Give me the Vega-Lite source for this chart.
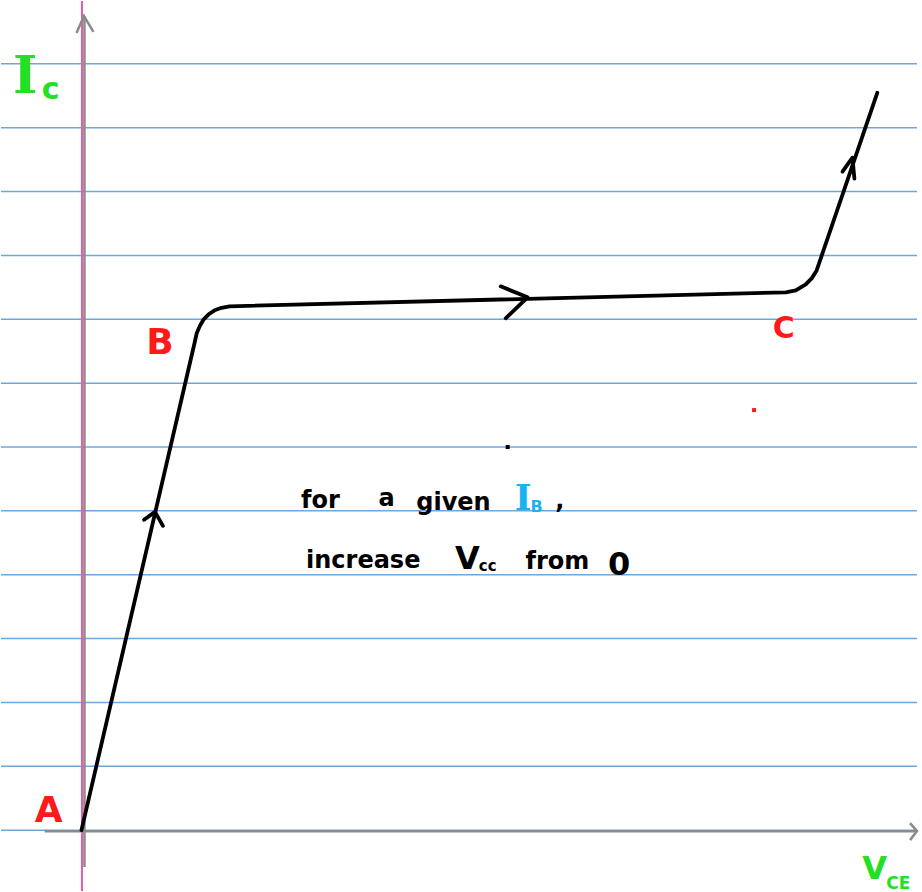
{
  "$schema": "https://vega.github.io/schema/vega-lite/v6.json",
  "width": 922,
  "height": 892,
  "padding": 0,
  "autosize": {"type": "fit", "contains": "padding"},
  "background": "white",
  "config": {"view": {"stroke": null}},
  "datasets": {
    "rules": [{"y": 0}, {"y": 64}, {"y": 128}, {"y": 192}, {"y": 256}, {"y": 320}, {"y": 384}, {"y": 448}, {"y": 512}, {"y": 576}, {"y": 640}, {"y": 704}, {"y": 768}],
    "margin": [{"x": -2.5}],
    "axes": [
      {"grp": "v", "o": 0, "x": 0, "y": -37},
      {"grp": "v", "o": 1, "x": 0, "y": 816},
      {"grp": "vh", "o": 0, "x": -8, "y": 799},
      {"grp": "vh", "o": 1, "x": -0.5, "y": 816},
      {"grp": "vh", "o": 2, "x": 9, "y": 800},
      {"grp": "h", "o": 0, "x": -40, "y": -1},
      {"grp": "h", "o": 1, "x": 838, "y": -1},
      {"grp": "hh", "o": 0, "x": 831, "y": 7},
      {"grp": "hh", "o": 1, "x": 838, "y": -1},
      {"grp": "hh", "o": 2, "x": 831, "y": -10}
    ],
    "curve": [
      {"o": 0, "x": -3, "y": 0},
      {"o": 1, "x": 111, "y": 489},
      {"o": 2, "x": 113, "y": 498},
      {"o": 3, "x": 116, "y": 505},
      {"o": 4, "x": 120, "y": 512},
      {"o": 5, "x": 125, "y": 517},
      {"o": 6, "x": 131, "y": 521},
      {"o": 7, "x": 138, "y": 523.5},
      {"o": 8, "x": 146, "y": 525},
      {"o": 9, "x": 706, "y": 539},
      {"o": 10, "x": 716, "y": 541},
      {"o": 11, "x": 726, "y": 547},
      {"o": 12, "x": 732, "y": 553},
      {"o": 13, "x": 737, "y": 561},
      {"o": 14, "x": 798, "y": 739}
    ],
    "arrows": [
      {"grp": "a1", "o": 0, "x": 60, "y": 311},
      {"grp": "a1", "o": 1, "x": 71, "y": 319},
      {"grp": "a1", "o": 2, "x": 79, "y": 305},
      {"grp": "a2", "o": 0, "x": 419, "y": 545},
      {"grp": "a2", "o": 1, "x": 446, "y": 534},
      {"grp": "a2", "o": 2, "x": 424, "y": 513},
      {"grp": "a3", "o": 0, "x": 763, "y": 660},
      {"grp": "a3", "o": 1, "x": 773, "y": 674},
      {"grp": "a3", "o": 2, "x": 775, "y": 653}
    ],
    "dots": [
      {"kind": "red", "x": 674, "y": 421},
      {"kind": "black", "x": 426, "y": 384}
    ],
    "texts": [
      {"role": "note", "t": "for", "x": 218, "y": 323},
      {"role": "note", "t": "a", "x": 296, "y": 325},
      {"role": "note", "t": "given", "x": 334, "y": 321},
      {"role": "note", "t": ",", "x": 474, "y": 323},
      {"role": "note", "t": "increase", "x": 223, "y": 263},
      {"role": "note", "t": "from", "x": 444, "y": 262},
      {"role": "noteBig", "t": "V", "x": 373, "y": 262},
      {"role": "noteBig", "t": "0", "x": 527, "y": 256},
      {"role": "noteSub", "t": "cc", "x": 397, "y": 260},
      {"role": "ib", "t": "I", "x": 433, "y": 321},
      {"role": "ibSub", "t": "B", "x": 449, "y": 319},
      {"role": "greenI", "t": "I", "x": -72, "y": 739},
      {"role": "greenSub", "t": "c", "x": -43, "y": 733},
      {"role": "greenV", "t": "V", "x": 783, "y": -49},
      {"role": "greenVSub", "t": "CE", "x": 807, "y": -59},
      {"role": "red", "t": "A", "x": -36, "y": 8},
      {"role": "red", "t": "B", "x": 76, "y": 477},
      {"role": "redC", "t": "C", "x": 704, "y": 493}
    ]
  },
  "layer": [
    {
      "data": {"name": "rules"},
      "mark": {"type": "rule", "color": "#6fa6de", "strokeWidth": 1.5},
      "encoding": {
        "y": {"field": "y", "type": "quantitative", "axis": null, "scale": {"domain": [-61, 831], "nice": false, "zero": false}}
      }
    },
    {
      "data": {"name": "margin"},
      "mark": {"type": "rule", "color": "#ec5a9c", "strokeWidth": 2},
      "encoding": {
        "x": {"field": "x", "type": "quantitative", "axis": null, "scale": {"domain": [-84, 838], "nice": false, "zero": false}}
      }
    },
    {
      "data": {"name": "axes"},
      "mark": {"type": "line", "color": "#8a8a8a", "strokeWidth": 2.5, "strokeCap": "butt"},
      "encoding": {
        "x": {"field": "x", "type": "quantitative", "axis": null, "scale": {"domain": [-84, 838], "nice": false, "zero": false}},
        "y": {"field": "y", "type": "quantitative", "axis": null, "scale": {"domain": [-61, 831], "nice": false, "zero": false}},
        "detail": {"field": "grp"},
        "order": {"field": "o"}
      }
    },
    {
      "data": {"name": "curve"},
      "mark": {"type": "line", "color": "black", "strokeWidth": 3.8, "strokeCap": "round", "strokeJoin": "round"},
      "encoding": {
        "x": {"field": "x", "type": "quantitative", "axis": null, "scale": {"domain": [-84, 838], "nice": false, "zero": false}},
        "y": {"field": "y", "type": "quantitative", "axis": null, "scale": {"domain": [-61, 831], "nice": false, "zero": false}},
        "order": {"field": "o"}
      }
    },
    {
      "data": {"name": "arrows"},
      "mark": {"type": "line", "color": "black", "strokeWidth": 3.8, "strokeCap": "round", "strokeJoin": "round"},
      "encoding": {
        "x": {"field": "x", "type": "quantitative", "axis": null, "scale": {"domain": [-84, 838], "nice": false, "zero": false}},
        "y": {"field": "y", "type": "quantitative", "axis": null, "scale": {"domain": [-61, 831], "nice": false, "zero": false}},
        "detail": {"field": "grp"},
        "order": {"field": "o"}
      }
    },
    {
      "data": {"name": "dots"},
      "mark": {"type": "square", "filled": true, "size": 16, "opacity": 1},
      "encoding": {
        "x": {"field": "x", "type": "quantitative", "axis": null, "scale": {"domain": [-84, 838], "nice": false, "zero": false}},
        "y": {"field": "y", "type": "quantitative", "axis": null, "scale": {"domain": [-61, 831], "nice": false, "zero": false}},
        "color": {"field": "kind", "type": "nominal", "legend": null, "scale": {"domain": ["red", "black"], "range": ["#ff1a1a", "#000000"]}}
      }
    },
    {
      "data": {"name": "texts"},
      "transform": [{"filter": "datum.role === 'note'"}],
      "mark": {"type": "text", "align": "left", "baseline": "alphabetic", "font": "DejaVu Sans", "fontWeight": "bold", "fontSize": 24, "color": "black"},
      "encoding": {
        "x": {"field": "x", "type": "quantitative", "axis": null, "scale": {"domain": [-84, 838], "nice": false, "zero": false}},
        "y": {"field": "y", "type": "quantitative", "axis": null, "scale": {"domain": [-61, 831], "nice": false, "zero": false}},
        "text": {"field": "t"}
      }
    },
    {
      "data": {"name": "texts"},
      "transform": [{"filter": "datum.role === 'noteBig'"}],
      "mark": {"type": "text", "align": "left", "baseline": "alphabetic", "font": "DejaVu Sans", "fontWeight": "bold", "fontSize": 32, "color": "black"},
      "encoding": {
        "x": {"field": "x", "type": "quantitative", "axis": null, "scale": {"domain": [-84, 838], "nice": false, "zero": false}},
        "y": {"field": "y", "type": "quantitative", "axis": null, "scale": {"domain": [-61, 831], "nice": false, "zero": false}},
        "text": {"field": "t"}
      }
    },
    {
      "data": {"name": "texts"},
      "transform": [{"filter": "datum.role === 'noteSub'"}],
      "mark": {"type": "text", "align": "left", "baseline": "alphabetic", "font": "DejaVu Sans", "fontWeight": "bold", "fontSize": 15, "color": "black"},
      "encoding": {
        "x": {"field": "x", "type": "quantitative", "axis": null, "scale": {"domain": [-84, 838], "nice": false, "zero": false}},
        "y": {"field": "y", "type": "quantitative", "axis": null, "scale": {"domain": [-61, 831], "nice": false, "zero": false}},
        "text": {"field": "t"}
      }
    },
    {
      "data": {"name": "texts"},
      "transform": [{"filter": "datum.role === 'ib'"}],
      "mark": {"type": "text", "align": "left", "baseline": "alphabetic", "font": "DejaVu Serif", "fontWeight": "bold", "fontSize": 36, "color": "#18b2f0"},
      "encoding": {
        "x": {"field": "x", "type": "quantitative", "axis": null, "scale": {"domain": [-84, 838], "nice": false, "zero": false}},
        "y": {"field": "y", "type": "quantitative", "axis": null, "scale": {"domain": [-61, 831], "nice": false, "zero": false}},
        "text": {"field": "t"}
      }
    },
    {
      "data": {"name": "texts"},
      "transform": [{"filter": "datum.role === 'ibSub'"}],
      "mark": {"type": "text", "align": "left", "baseline": "alphabetic", "font": "DejaVu Sans", "fontWeight": "bold", "fontSize": 16, "color": "#18b2f0"},
      "encoding": {
        "x": {"field": "x", "type": "quantitative", "axis": null, "scale": {"domain": [-84, 838], "nice": false, "zero": false}},
        "y": {"field": "y", "type": "quantitative", "axis": null, "scale": {"domain": [-61, 831], "nice": false, "zero": false}},
        "text": {"field": "t"}
      }
    },
    {
      "data": {"name": "texts"},
      "transform": [{"filter": "datum.role === 'greenI'"}],
      "mark": {"type": "text", "align": "left", "baseline": "alphabetic", "font": "DejaVu Serif", "fontWeight": "bold", "fontSize": 52, "color": "#22e022"},
      "encoding": {
        "x": {"field": "x", "type": "quantitative", "axis": null, "scale": {"domain": [-84, 838], "nice": false, "zero": false}},
        "y": {"field": "y", "type": "quantitative", "axis": null, "scale": {"domain": [-61, 831], "nice": false, "zero": false}},
        "text": {"field": "t"}
      }
    },
    {
      "data": {"name": "texts"},
      "transform": [{"filter": "datum.role === 'greenSub'"}],
      "mark": {"type": "text", "align": "left", "baseline": "alphabetic", "font": "DejaVu Sans", "fontWeight": "bold", "fontSize": 30, "color": "#22e022"},
      "encoding": {
        "x": {"field": "x", "type": "quantitative", "axis": null, "scale": {"domain": [-84, 838], "nice": false, "zero": false}},
        "y": {"field": "y", "type": "quantitative", "axis": null, "scale": {"domain": [-61, 831], "nice": false, "zero": false}},
        "text": {"field": "t"}
      }
    },
    {
      "data": {"name": "texts"},
      "transform": [{"filter": "datum.role === 'greenV'"}],
      "mark": {"type": "text", "align": "left", "baseline": "alphabetic", "font": "DejaVu Sans", "fontWeight": "bold", "fontSize": 32, "color": "#22e022"},
      "encoding": {
        "x": {"field": "x", "type": "quantitative", "axis": null, "scale": {"domain": [-84, 838], "nice": false, "zero": false}},
        "y": {"field": "y", "type": "quantitative", "axis": null, "scale": {"domain": [-61, 831], "nice": false, "zero": false}},
        "text": {"field": "t"}
      }
    },
    {
      "data": {"name": "texts"},
      "transform": [{"filter": "datum.role === 'greenVSub'"}],
      "mark": {"type": "text", "align": "left", "baseline": "alphabetic", "font": "DejaVu Sans", "fontWeight": "bold", "fontSize": 17, "color": "#22e022"},
      "encoding": {
        "x": {"field": "x", "type": "quantitative", "axis": null, "scale": {"domain": [-84, 838], "nice": false, "zero": false}},
        "y": {"field": "y", "type": "quantitative", "axis": null, "scale": {"domain": [-61, 831], "nice": false, "zero": false}},
        "text": {"field": "t"}
      }
    },
    {
      "data": {"name": "texts"},
      "transform": [{"filter": "datum.role === 'red'"}],
      "mark": {"type": "text", "align": "center", "baseline": "alphabetic", "font": "DejaVu Sans", "fontWeight": "bold", "fontSize": 36, "color": "#ff1a1a"},
      "encoding": {
        "x": {"field": "x", "type": "quantitative", "axis": null, "scale": {"domain": [-84, 838], "nice": false, "zero": false}},
        "y": {"field": "y", "type": "quantitative", "axis": null, "scale": {"domain": [-61, 831], "nice": false, "zero": false}},
        "text": {"field": "t"}
      }
    },
    {
      "data": {"name": "texts"},
      "transform": [{"filter": "datum.role === 'redC'"}],
      "mark": {"type": "text", "align": "center", "baseline": "alphabetic", "font": "DejaVu Sans", "fontWeight": "bold", "fontSize": 30, "color": "#ff1a1a"},
      "encoding": {
        "x": {"field": "x", "type": "quantitative", "axis": null, "scale": {"domain": [-84, 838], "nice": false, "zero": false}},
        "y": {"field": "y", "type": "quantitative", "axis": null, "scale": {"domain": [-61, 831], "nice": false, "zero": false}},
        "text": {"field": "t"}
      }
    }
  ]
}
